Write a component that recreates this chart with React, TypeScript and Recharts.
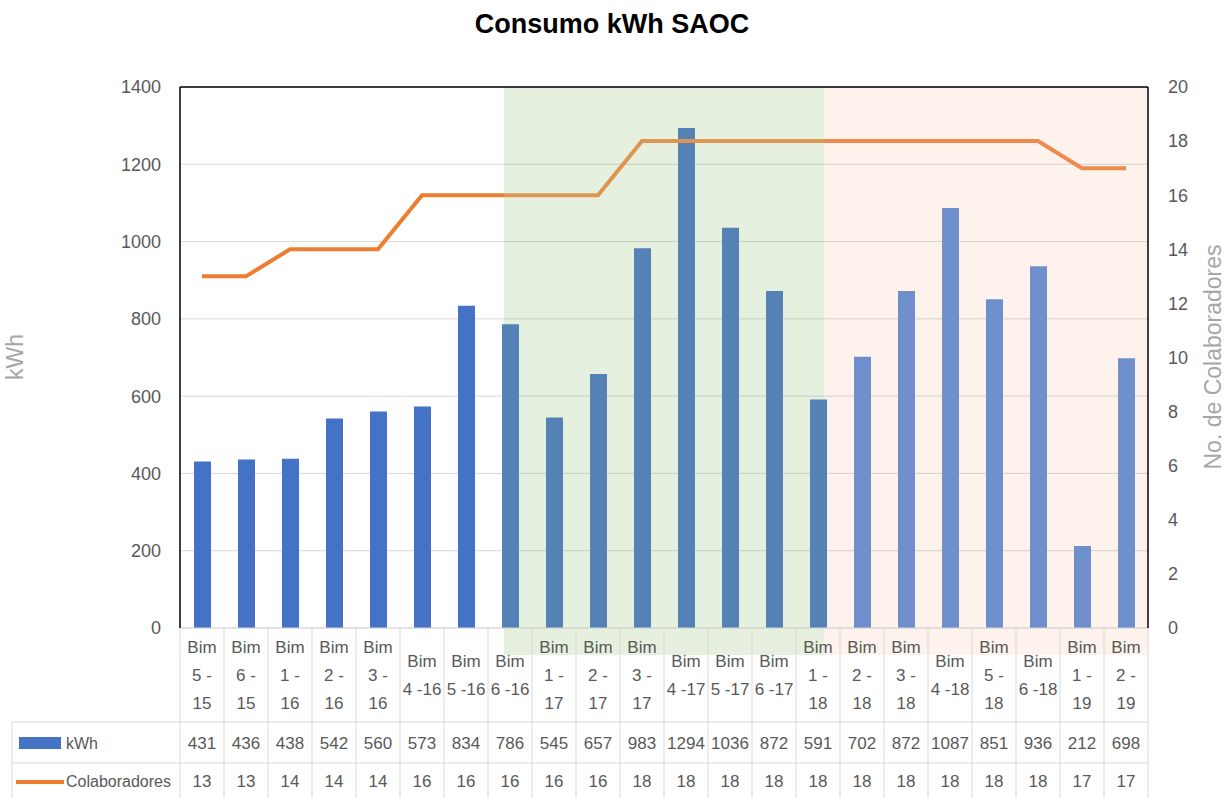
import React from 'react'
import {
  ComposedChart,
  Bar,
  Cell,
  Line,
  XAxis,
  YAxis,
  CartesianGrid,
  ReferenceArea,
  ReferenceLine,
} from 'recharts'

// ─── Data ─────────────────────────────────────────────────────────────────────

const categories = [
  'Bim\n5 -\n15', 'Bim\n6 -\n15', 'Bim\n1 -\n16', 'Bim\n2 -\n16', 'Bim\n3 -\n16',
  'Bim\n4 -16', 'Bim\n5 -16', 'Bim\n6 -16',
  'Bim\n1 -\n17', 'Bim\n2 -\n17', 'Bim\n3 -\n17',
  'Bim\n4 -17', 'Bim\n5 -17', 'Bim\n6 -17',
  'Bim\n1 -\n18', 'Bim\n2 -\n18', 'Bim\n3 -\n18',
  'Bim\n4 -18', 'Bim\n5 -\n18', 'Bim\n6 -18',
  'Bim\n1 -\n19', 'Bim\n2 -\n19',
]

const kwh = [431, 436, 438, 542, 560, 573, 834, 786, 545, 657, 983, 1294, 1036, 872, 591, 702, 872, 1087, 851, 936, 212, 698]

const colaboradores = [13, 13, 14, 14, 14, 16, 16, 16, 16, 16, 18, 18, 18, 18, 18, 18, 18, 18, 18, 18, 17, 17]

const kwhTicks = [0, 200, 400, 600, 800, 1000, 1200, 1400]
const colabTicks = [0, 2, 4, 6, 8, 10, 12, 14, 16, 18, 20]

// shaded periods, in category units (0 = left edge of the first category)
const greenSpan = [7.36, 14.64]
const beigeSpan = [14.64, 22]

// ─── Layout ───────────────────────────────────────────────────────────────────

const W = 1229
const H = 798
const PLOT_LEFT = 180
const PLOT_RIGHT = 1148
const PLOT_TOP = 87
const TABLE_H = 170
const N = categories.length
const BAND = (PLOT_RIGHT - PLOT_LEFT) / N

const SANS = '"Liberation Sans", Arial, sans-serif'
const TEXT = '#595959'
const LINE_GRAY = '#d9d9d9'
const BLUE = '#4472C4'
const BLUE_GREEN = '#5482B6'
const BLUE_BEIGE = '#6F8FCC'
const ORANGE = '#ED7D31'

const data = categories.map((name, i) => ({
  name,
  kwh: kwh[i],
  colab: colaboradores[i],
  pos: i + 0.5,
}))

function barColor(i: number) {
  const c = i + 0.5
  if (c > greenSpan[0] && c < greenSpan[1]) return BLUE_GREEN
  if (c > beigeSpan[0]) return BLUE_BEIGE
  return BLUE
}

// ─── Table under the plot (drawn per category tick) ──────────────────────────

function TableColumn(props: any) {
  const { x, y, payload } = props
  const i = categories.indexOf(payload.value)
  const lines = String(payload.value).split('\n')
  const h = BAND / 2
  const last = i === N - 1
  const txt = {
    fill: TEXT,
    fontSize: 17,
    fontFamily: SANS,
    textAnchor: 'middle' as const,
    dominantBaseline: 'central' as const,
  }
  return (
    <g>
      <line x1={x - h} x2={x - h} y1={y} y2={y + TABLE_H} stroke={LINE_GRAY} />
      {last && <line x1={x + h} x2={x + h} y1={y} y2={y + TABLE_H} stroke={LINE_GRAY} />}
      <line x1={x - h} x2={x + h} y1={y + 94} y2={y + 94} stroke={LINE_GRAY} />
      <line x1={x - h} x2={x + h} y1={y + 135} y2={y + 135} stroke={LINE_GRAY} />
      {lines.map((t, k) => (
        <text key={k} x={x} y={y + 47 + (k - (lines.length - 1) / 2) * 28} {...txt}>
          {t}
        </text>
      ))}
      <text x={x} y={y + 115} {...txt}>{kwh[i]}</text>
      <text x={x} y={y + 153} {...txt}>{colaboradores[i]}</text>
    </g>
  )
}

// ─── Component ────────────────────────────────────────────────────────────────

export default function App() {
  const g0 = greenSpan[0] / N
  const g1 = greenSpan[1] / N
  return (
    <div style={{ position: 'absolute', left: 0, top: 0, width: W, height: H, background: '#fff' }}>
      <svg width={0} height={0} style={{ position: 'absolute' }}>
        <defs>
          <linearGradient id="lineTint" gradientUnits="userSpaceOnUse" x1={PLOT_LEFT} x2={PLOT_RIGHT} y1={0} y2={0}>
            <stop offset={0} stopColor={ORANGE} />
            <stop offset={g0} stopColor={ORANGE} />
            <stop offset={g0} stopColor="#DC9651" />
            <stop offset={g1} stopColor="#DC9651" />
            <stop offset={g1} stopColor="#EE8A4C" />
            <stop offset={1} stopColor="#EE8A4C" />
          </linearGradient>
        </defs>
      </svg>
      <ComposedChart
        width={W}
        height={H}
        data={data}
        margin={{ top: PLOT_TOP, right: 0, bottom: 0, left: 0 }}
        barSize={17}
      >
        <CartesianGrid vertical={false} stroke={LINE_GRAY} yAxisId="left" />
        <ReferenceArea
          xAxisId="pos"
          yAxisId="left"
          x1={greenSpan[0]}
          x2={greenSpan[1]}
          y1={-70}
          y2={1400}
          ifOverflow="visible"
          fill="#70AD47"
          fillOpacity={0.18}
          stroke="none"
        />
        <ReferenceArea
          xAxisId="pos"
          yAxisId="left"
          x1={beigeSpan[0]}
          x2={beigeSpan[1]}
          y1={-70}
          y2={1400}
          ifOverflow="visible"
          fill={ORANGE}
          fillOpacity={0.09}
          stroke="none"
        />
        <XAxis
          dataKey="name"
          interval={0}
          height={TABLE_H}
          tickSize={0}
          tickMargin={0}
          tickLine={false}
          axisLine={{ stroke: LINE_GRAY }}
          tick={<TableColumn />}
        />
        <XAxis xAxisId="pos" dataKey="pos" type="number" domain={[0, N]} hide />
        <YAxis
          yAxisId="left"
          width={PLOT_LEFT}
          domain={[0, 1400]}
          ticks={kwhTicks}
          tickLine={false}
          tickSize={0}
          tickMargin={19}
          axisLine={{ stroke: '#000', strokeWidth: 1.5 }}
          tick={{ fill: TEXT, fontSize: 18, fontFamily: SANS }}
        />
        <YAxis
          yAxisId="right"
          orientation="right"
          width={W - PLOT_RIGHT}
          domain={[0, 20]}
          ticks={colabTicks}
          tickLine={false}
          tickSize={0}
          tickMargin={20}
          axisLine={{ stroke: '#000', strokeWidth: 1.5 }}
          tick={{ fill: TEXT, fontSize: 18, fontFamily: SANS, textAnchor: 'start' }}
        />
        <ReferenceLine yAxisId="left" y={1400} stroke="#000" strokeWidth={1.5} />
        <Bar yAxisId="left" dataKey="kwh" isAnimationActive={false}>
          {data.map((_, i) => (
            <Cell key={i} fill={barColor(i)} />
          ))}
        </Bar>
        <Line
          yAxisId="right"
          dataKey="colab"
          type="linear"
          stroke="url(#lineTint)"
          strokeWidth={4}
          dot={false}
          isAnimationActive={false}
        />
      </ComposedChart>

      {/* title, axis titles and the legend column of the table */}
      <svg width={W} height={H} style={{ position: 'absolute', left: 0, top: 0, pointerEvents: 'none' }}>
        <text x={612} y={33} textAnchor="middle" fontFamily={SANS} fontWeight="bold" fontSize={27} fill="#000">
          Consumo kWh SAOC
        </text>
        <text
          x={15}
          y={357}
          transform="rotate(-90 15 357)"
          textAnchor="middle"
          dominantBaseline="central"
          fontFamily={SANS}
          fontSize={23}
          fill="#a6a6a6"
        >
          kWh
        </text>
        <text
          x={1213}
          y={357}
          transform="rotate(-90 1213 357)"
          textAnchor="middle"
          dominantBaseline="central"
          fontFamily={SANS}
          fontSize={23}
          fill="#a6a6a6"
        >
          No. de Colaboradores
        </text>
        <line x1={12} x2={PLOT_LEFT} y1={722} y2={722} stroke={LINE_GRAY} />
        <line x1={12} x2={PLOT_LEFT} y1={763} y2={763} stroke={LINE_GRAY} />
        <line x1={12} x2={12} y1={722} y2={H} stroke={LINE_GRAY} />
        <rect x={19} y={737} width={42} height={12} fill={BLUE} />
        <text x={66} y={743} dominantBaseline="central" fontFamily={SANS} fontSize={16} fill={TEXT}>
          kWh
        </text>
        <line x1={16} x2={64} y1={782} y2={782} stroke={ORANGE} strokeWidth={4} />
        <text x={66} y={781} dominantBaseline="central" fontFamily={SANS} fontSize={16} fill={TEXT}>
          Colaboradores
        </text>
      </svg>
    </div>
  )
}
